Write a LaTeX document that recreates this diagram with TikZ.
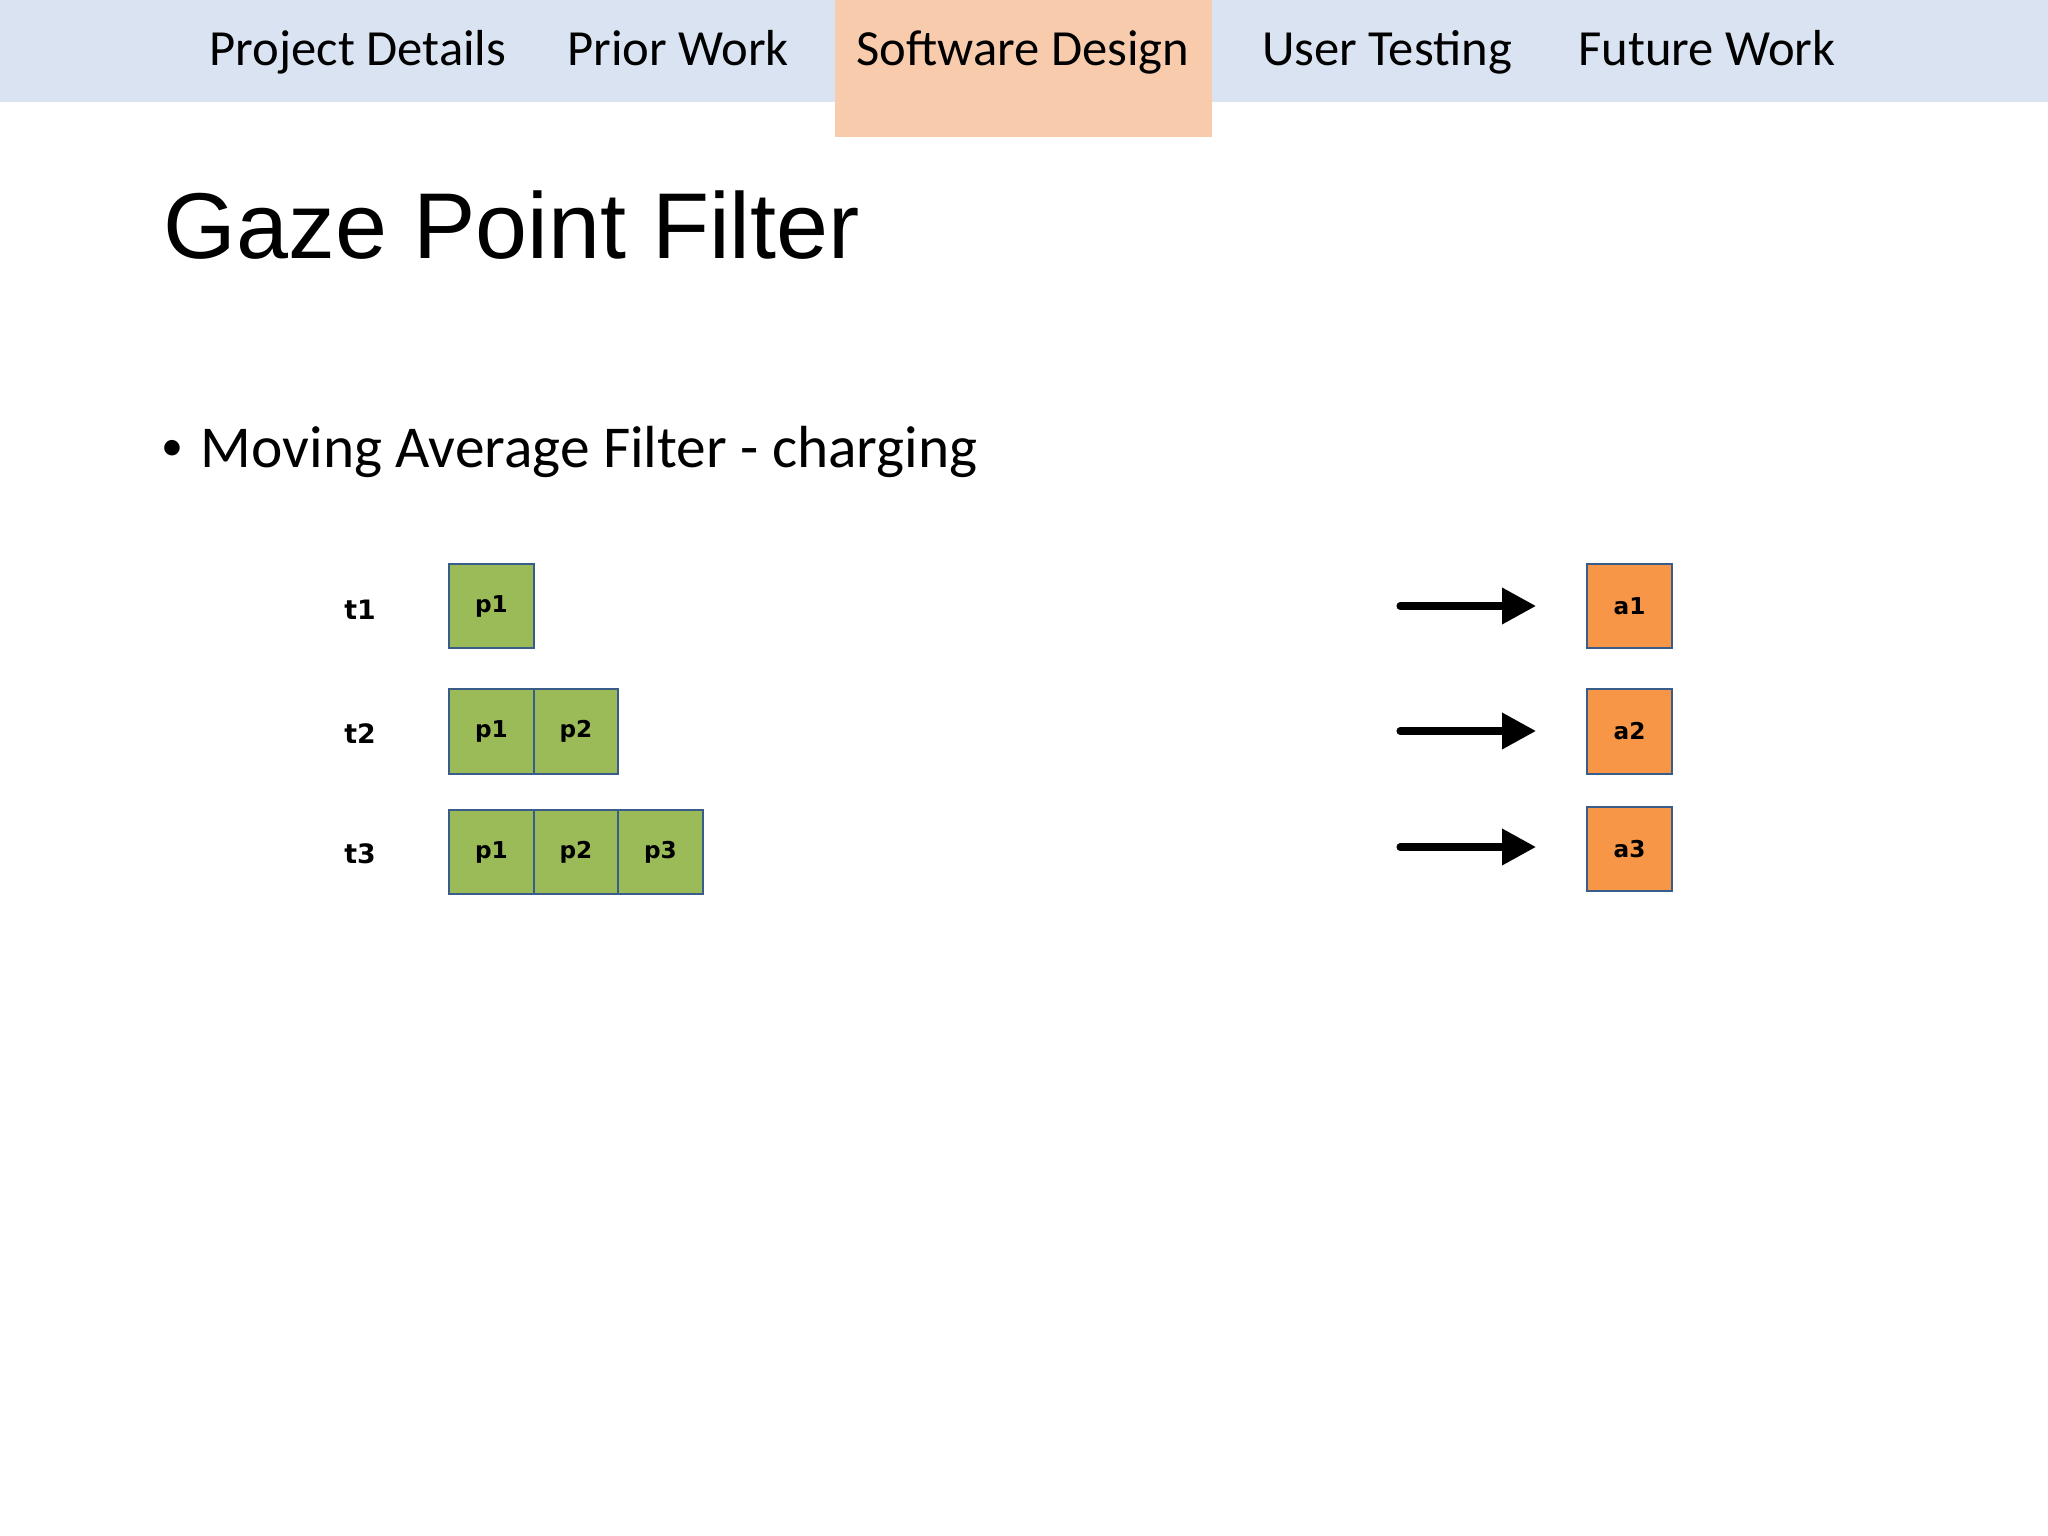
\documentclass[tikz,border=0pt]{standalone}
\usepackage{fontspec}
\setmainfont{Carlito}
\newfontfamily\titlefont{Liberation Sans}
\newfontfamily\cellfont{DejaVu Sans}
\usetikzlibrary{arrows.meta,positioning}
\definecolor{barblue}{HTML}{DAE3F1}
\definecolor{tabpeach}{HTML}{F8CBAD}
\definecolor{cellgreen}{HTML}{9BBB59}
\definecolor{cellorange}{HTML}{F79646}
\definecolor{celledge}{HTML}{385D8A}
\tikzset{
  tab/.style={anchor=base, inner sep=0pt, font=\fontsize{14.4}{16}\selectfont},
  cell/.style={draw=celledge, line width=0.7pt, minimum size=0.845cm, inner sep=0pt, outer sep=0pt,
    font=\cellfont\bfseries\fontsize{6.6}{7}\selectfont},
  point/.style={cell, fill=cellgreen},
  avg/.style={cell, fill=cellorange},
  tlabel/.style={font=\cellfont\bfseries\fontsize{7.6}{9}\selectfont, inner sep=0pt},
  step arrow/.style={line width=2pt, line cap=round, -{Triangle[length=0.34cm,width=0.35cm]}}
}
\begin{document}
\begin{tikzpicture}
  \useasboundingbox (0,0) rectangle (20.48,-15.36);
  % navigation bar
  \fill[barblue] (0,0) rectangle (20.48,-1.02);
  \fill[tabpeach] (8.35,0) rectangle (12.12,-1.37);
  \node[tab] (nav1) at (3.58,-0.66) {Project Details};
  \node[tab] (nav2) at (6.78,-0.66) {Prior Work};
  \node[tab] (nav3) at (10.23,-0.66) {Software Design};
  \node[tab] (nav4) at (13.87,-0.66) {User Testing};
  \node[tab] (nav5) at (17.07,-0.66) {Future Work};
  % title and bullet
  \node[anchor=base west, inner sep=0pt, font=\titlefont\fontsize{26.6}{30}\selectfont] (title) at (1.63,-2.59) {Gaze Point Filter};
  \node[inner sep=0pt, font=\fontsize{12.5}{14}\selectfont] (dot) at (1.72,-4.50) {\textbullet};
  \node[anchor=base west, inner sep=0pt, font=\fontsize{16.9}{20}\selectfont] (bullet) at (2.00,-4.68) {Moving Average Filter - charging};
  % time steps
  \node[tlabel] (t1) at (3.60,-6.10) {t1};
  \node[tlabel] (t2) at (3.60,-7.34) {t2};
  \node[tlabel] (t3) at (3.60,-8.54) {t3};
  % window contents
  \node[point] (p11) at (4.915,-6.06) {p1};
  \node[point] (p21) at (4.915,-7.315) {p1};
  \node[point, right=0pt of p21] (p22) {p2};
  \node[point] (p31) at (4.915,-8.52) {p1};
  \node[point, right=0pt of p31] (p32) {p2};
  \node[point, right=0pt of p32] (p33) {p3};
  % averages
  \node[avg] (a1) at (16.295,-6.06) {a1};
  \node[avg] (a2) at (16.295,-7.315) {a2};
  \node[avg] (a3) at (16.295,-8.49) {a3};
  \foreach \i/\y in {1/-6.06, 2/-7.31, 3/-8.47} {
    \coordinate (s\i) at (14.00,\y);
    \coordinate (e\i) at (15.36,\y);
    \draw[step arrow] (s\i) -- (e\i);
  }
\end{tikzpicture}
\end{document}
